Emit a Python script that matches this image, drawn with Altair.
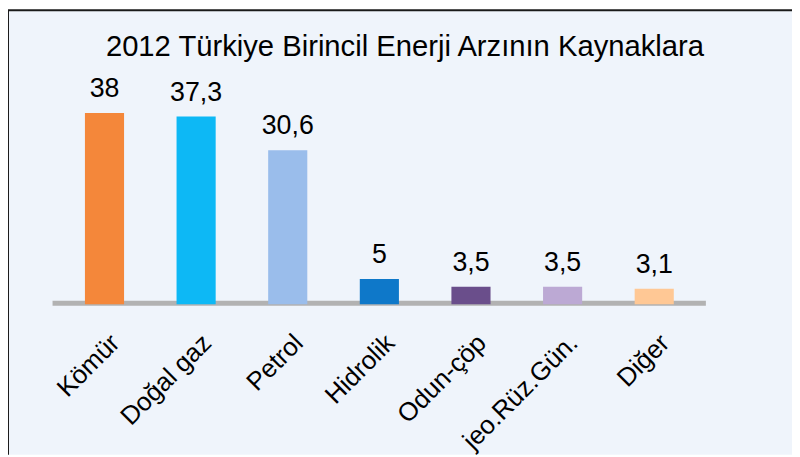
import altair as alt
import pandas as pd

title_text = "2012 Türkiye Birincil Enerji Arzının  Kaynaklara"
categories = ["Kömür", "Doğal gaz", "Petrol", "Hidrolik", "Odun-çöp", "jeo.Rüz.Gün.", "Diğer"]
values = [38, 37.3, 30.6, 5, 3.5, 3.5, 3.1]
value_labels = ["38", "37,3", "30,6", "5", "3,5", "3,5", "3,1"]
colors = ["#F4873A", "#0DB8F5", "#9ABDEB", "#0E78C9", "#6A4E8B", "#BCA9D4", "#FFC895"]

W, H = 792, 449
FONT = "Liberation Sans"

df = pd.DataFrame({"cat": categories, "val": values, "lab": value_labels})

xs = alt.Scale(domain=categories, range=[51.2, 699.1], paddingInner=0.573, paddingOuter=0.2865)
ys = alt.Scale(domain=[0, 40], range=[297, 93.5])
cs = alt.Scale(domain=categories, range=colors)

one = pd.DataFrame({"t": [title_text]})

floor = alt.Chart(one).mark_rule(strokeWidth=5, color="#B2B2B2").encode(
    x=alt.value(45), x2=alt.value(705), y=alt.value(296)
)

bars = alt.Chart(df).mark_bar().encode(
    x=alt.X("cat:N", scale=xs, axis=None, sort=categories),
    y=alt.Y("val:Q", scale=ys, axis=None),
    color=alt.Color("cat:N", scale=cs, legend=None),
)

vals = alt.Chart(df).mark_text(font=FONT, fontSize=27, baseline="alphabetic", dy=-16, color="#000000").encode(
    x=alt.X("cat:N", scale=xs, axis=None, sort=categories),
    y=alt.Y("val:Q", scale=ys, axis=None),
    text="lab:N",
)

xlabels = alt.Chart(df).mark_text(font=FONT, fontSize=26, angle=315, align="right", baseline="top",
                                  color="#000000", xOffset=2).encode(
    x=alt.X("cat:N", scale=xs, axis=None, sort=categories),
    y=alt.value(323),
    text="cat:N",
)

title = alt.Chart(one).mark_text(font=FONT, fontSize=29.5, baseline="alphabetic", align="center",
                                 color="#000000").encode(
    x=alt.value(401), y=alt.value(46), text="t:N"
)

left_border = alt.Chart(one).mark_rule(strokeWidth=2, color="#1A1A1A").encode(
    x=alt.value(0), y=alt.value(0), y2=alt.value(H)
)
top_border = alt.Chart(one).mark_rule(strokeWidth=2, color="#1A1A1A").encode(
    x=alt.value(0), x2=alt.value(W), y=alt.value(0)
)

chart = alt.layer(floor, bars, vals, xlabels, title, left_border, top_border).properties(
    width=W, height=H, autosize=alt.AutoSizeParams(type="none"), padding=0, background="#FFFFFF"
).configure_view(fill="#EFF4FB", strokeWidth=0)

chart.save("out.html", embed_options={"renderer": "svg", "actions": False})
